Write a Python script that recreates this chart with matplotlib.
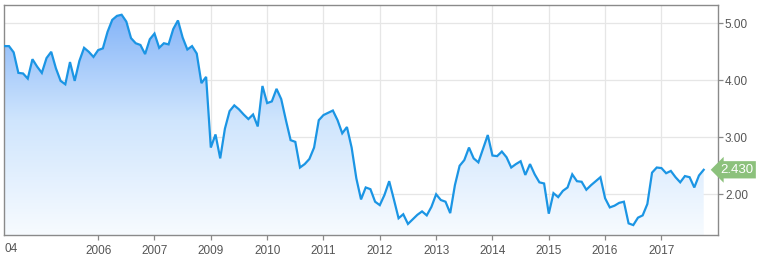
import numpy as np
import matplotlib
matplotlib.use("Agg")
import matplotlib.pyplot as plt
from matplotlib.colors import LinearSegmentedColormap
from matplotlib.patches import Polygon

# monthly values (150 points)
values = [
    4.60, 4.60, 4.49, 4.13, 4.12, 4.03, 4.37, 4.24, 4.13, 4.39,
    4.50, 4.21, 3.99, 3.93, 4.32, 3.99, 4.34, 4.57, 4.50, 4.41,
    4.53, 4.56, 4.85, 5.06, 5.13, 5.15, 5.03, 4.74, 4.65, 4.62,
    4.46, 4.72, 4.82, 4.57, 4.65, 4.63, 4.90, 5.05, 4.75, 4.54,
    4.60, 4.47, 3.95, 4.06, 2.82, 3.05, 2.63, 3.15, 3.46, 3.56,
    3.49, 3.40, 3.32, 3.40, 3.19, 3.90, 3.60, 3.63, 3.85, 3.67,
    3.30, 2.95, 2.92, 2.47, 2.53, 2.62, 2.82, 3.30, 3.39, 3.43,
    3.47, 3.30, 3.07, 3.18, 2.82, 2.28, 1.91, 2.12, 2.09, 1.87,
    1.81, 1.99, 2.23, 1.91, 1.58, 1.65, 1.48, 1.56, 1.64, 1.70,
    1.63, 1.78, 2.00, 1.90, 1.87, 1.67, 2.16, 2.50, 2.60, 2.82,
    2.63, 2.56, 2.80, 3.04, 2.68, 2.67, 2.75, 2.65, 2.47, 2.53,
    2.58, 2.34, 2.53, 2.35, 2.21, 2.19, 1.66, 2.02, 1.95, 2.06,
    2.12, 2.35, 2.23, 2.22, 2.08, 2.16, 2.23, 2.30, 1.93, 1.77,
    1.80, 1.85, 1.87, 1.49, 1.46, 1.59, 1.63, 1.83, 2.38, 2.47,
    2.46, 2.37, 2.41, 2.30, 2.21, 2.32, 2.30, 2.12, 2.33, 2.43,
]
year_ticks = [20, 32, 44, 56, 68, 80, 92, 104, 116, 128, 140]
year_labels = ["2006", "2007", "2009", "2010", "2011", "2012",
               "2013", "2014", "2015", "2016", "2017"]
first_label = "04"
last_value = 2.430

W, H = 761, 263
fig = plt.figure(figsize=(W / 100, H / 100), dpi=100)
ax = fig.add_axes([4 / W, (H - 235) / H, (718 - 4) / W, (235 - 5) / H])

x = np.arange(len(values))
y = np.array(values)
ymin, ymax = 1.286, 5.321
xmin, xmax = -0.06, 152.05

# gradient fill under the line
cmap = LinearSegmentedColormap.from_list("fade", ["#f7fbff", "#cfe5fd", "#7eb0f8"])
grad = np.linspace(0, 1, 256).reshape(-1, 1)
img = ax.imshow(grad, cmap=cmap, aspect="auto", origin="lower",
                extent=[xmin, xmax, ymin, ymax], zorder=1)
verts = np.vstack([[x[0], ymin], np.column_stack([x, y]), [x[-1], ymin]])
poly = Polygon(verts, closed=True, facecolor="none", edgecolor="none")
ax.add_patch(poly)
img.set_clip_path(poly)

ax.plot(x, y, color="#1b95e4", lw=1.6, zorder=3, solid_joinstyle="miter")

ax.set_xlim(xmin, xmax)
ax.set_ylim(ymin, ymax)

ax.set_xticks(year_ticks)
ax.set_xticklabels(year_labels)
ax.set_yticks([2, 3, 4, 5])
ax.set_yticklabels(["%.2f" % v for v in [2, 3, 4, 5]])
ax.yaxis.tick_right()
ax.grid(True, color="#e6e6e6", lw=0.9, zorder=0)
ax.set_axisbelow(True)
ax.tick_params(axis="both", colors="#888888", labelcolor="#555555",
               labelsize=8.5, length=3.5, width=0.9)
ax.tick_params(axis="y", pad=1.5)
ax.tick_params(axis="x", pad=4)
for lab in ax.get_xticklabels() + ax.get_yticklabels():
    lab.set_family("Liberation Sans")
for s in ax.spines.values():
    s.set_color("#8a8a8a")
    s.set_linewidth(1.0)

ax.text(0, -13.5 / 230, first_label, transform=ax.get_xaxis_transform(),
        ha="left", va="center", fontsize=8.5, color="#555555",
        family="Liberation Sans")

# last value tag
ax.annotate("%.3f" % last_value, xy=(1.0, last_value),
            xycoords=("axes fraction", "data"),
            xytext=(1.5, 0), textcoords="offset points",
            ha="left", va="center", fontsize=9.5, color="white",
            family="Liberation Sans", zorder=5,
            bbox=dict(boxstyle="larrow,pad=0.2", fc="#8cc17c", ec="none"),
            annotation_clip=False)

fig.savefig("out.png", dpi=100)
